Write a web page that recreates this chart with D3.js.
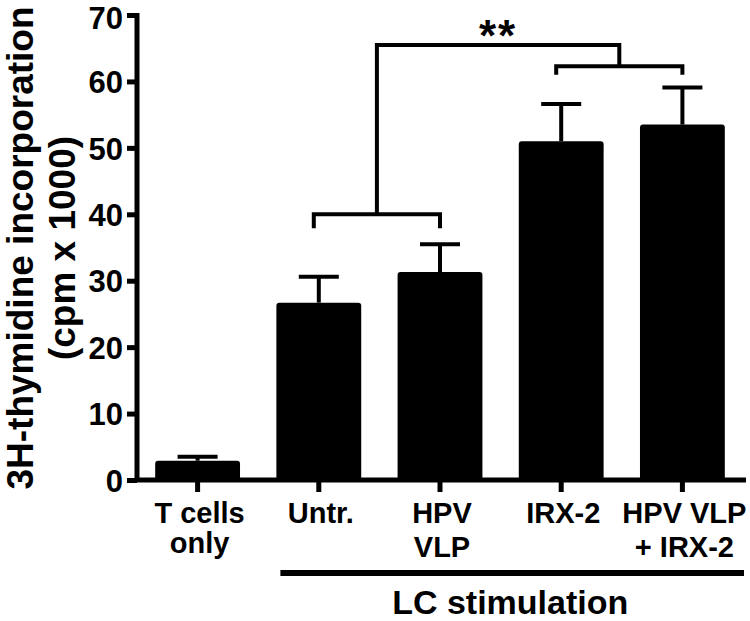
<!DOCTYPE html>
<html>
<head>
<meta charset="utf-8">
<script src="https://cdn.jsdelivr.net/npm/d3@7"></script>
<style>
  body { margin: 0; background: #fff; }
  text { font-family: "Liberation Sans", Arial, sans-serif; font-weight: bold; fill: #000; }
</style>
</head>
<body>
<script>
// groups on the x axis and their label lines
var categories = ['T cells only', 'Untr.', 'HPV VLP', 'IRX-2', 'HPV VLP + IRX-2']
var labelLines = [['T cells', 'only'], ['Untr.'], ['HPV', 'VLP'], ['IRX-2'], ['HPV VLP', '+ IRX-2']]
// mean and upper error (cpm x 1000)
var means = [2.9, 26.7, 31.3, 51.0, 53.5]
var errors = [0.6, 3.9, 4.2, 5.6, 5.6]
var yTicks = [0, 10, 20, 30, 40, 50, 60, 70]

// significance brackets, heights in data units
var innerBrackets = [
  {from: 'Untr.', to: 'HPV VLP', y: 40.0, leg: 37.9},
  {from: 'IRX-2', to: 'HPV VLP + IRX-2', y: 62.3, leg: 61.0}
]
var outerBracket = {y: 65.5, label: '**'}
var groupLabel = 'LC stimulation'

var width = 750, height = 621

var svg = d3.select('body').append('svg')
    .attr('width', width)
    .attr('height', height)

var x = d3.scaleBand()
    .domain(categories)
    .range([137, 743])
    .paddingInner(0.3)
    .paddingOuter(0.15)

var y = d3.scaleLinear()
    .domain([0, 70])
    .range([480, 15])

var cx = function(c) { return x(c) + x.bandwidth() / 2 }

var data = categories.map(function(c, i) {
  return {cat: c, mean: means[i], err: errors[i], lines: labelLines[i]}
})

// bars
svg.append('g').selectAll('rect')
  .data(data)
  .enter().append('rect')
    .attr('x', function(d) { return x(d.cat) })
    .attr('y', function(d) { return y(d.mean) })
    .attr('width', x.bandwidth())
    .attr('height', function(d) { return y(0) - y(d.mean) })
    .attr('rx', 3)
    .attr('fill', '#000')

// error bars (upper only)
var eb = svg.append('g')
    .attr('stroke', '#000')
    .attr('stroke-width', 4)
eb.selectAll('line.v')
  .data(data)
  .enter().append('line')
    .attr('class', 'v')
    .attr('x1', function(d) { return cx(d.cat) })
    .attr('x2', function(d) { return cx(d.cat) })
    .attr('y1', function(d) { return y(d.mean) })
    .attr('y2', function(d) { return y(d.mean + d.err) })
eb.selectAll('line.cap')
  .data(data)
  .enter().append('line')
    .attr('class', 'cap')
    .attr('x1', function(d) { return cx(d.cat) - 20 })
    .attr('x2', function(d) { return cx(d.cat) + 20 })
    .attr('y1', function(d) { return y(d.mean + d.err) })
    .attr('y2', function(d) { return y(d.mean + d.err) })

// y axis
var yAxis = svg.append('g')
    .attr('transform', 'translate(137,0)')
    .call(d3.axisLeft(y).tickValues(yTicks).tickSize(10).tickSizeOuter(0).tickPadding(4))
yAxis.selectAll('path, line')
    .attr('stroke', '#000')
    .attr('stroke-width', 5)
yAxis.select('.domain').attr('d', 'M0,' + (y(70) - 2) + 'V' + (y(0) + 2))
yAxis.selectAll('text')
    .attr('font-size', 31)
    .attr('dy', function(d) { return d === 70 ? '0.45em' : '0.36em' })
    .attr('font-family', '"Liberation Sans", Arial, sans-serif')
    .attr('font-weight', 'bold')

// x axis
var xAxis = svg.append('g')
    .attr('transform', 'translate(0,' + y(0) + ')')
    .call(d3.axisBottom(x).tickSize(12).tickSizeOuter(0).tickFormat(''))
xAxis.selectAll('line')
    .attr('stroke', '#000')
    .attr('stroke-width', 5)
xAxis.select('.domain')
    .attr('d', 'M135,0H746')
    .attr('stroke', '#000')
    .attr('stroke-width', 5)

var xl = svg.append('g').selectAll('text')
  .data(data)
  .enter().append('text')
    .attr('x', function(d) { return cx(d.cat) + 2 })
    .attr('y', 523)
    .attr('text-anchor', 'middle')
    .attr('font-size', 29)
xl.selectAll('tspan')
  .data(function(d, i) { return d.lines.map(function(l) { return {t: l, gap: i === 0 ? 30 : 34} }) })
  .enter().append('tspan')
    .attr('x', function() { return this.parentNode.getAttribute('x') })
    .attr('dy', function(d, j) { return j === 0 ? 0 : d.gap })
    .text(function(d) { return d.t })

// y title
var yt = svg.append('text')
    .attr('transform', 'translate(0,248) rotate(-90)')
    .attr('text-anchor', 'middle')
    .attr('font-size', 37)
yt.append('tspan').attr('x', 0).attr('y', 33).text('3H-thymidine incorporation')
yt.append('tspan').attr('x', 0).attr('y', 75).text('(cpm x 1000)')

// group line under the LC stimulation categories
svg.append('line')
    .attr('x1', x('Untr.') + 4)
    .attr('x2', 744)
    .attr('y1', 573)
    .attr('y2', 573)
    .attr('stroke', '#000')
    .attr('stroke-width', 6)
svg.append('text')
    .attr('x', (x('Untr.') + 744) / 2)
    .attr('y', 614)
    .attr('text-anchor', 'middle')
    .attr('font-size', 34)
    .text(groupLabel)

// significance brackets
var br = svg.append('g')
    .attr('fill', 'none')
    .attr('stroke', '#000')
    .attr('stroke-width', 4)
var mids = innerBrackets.map(function(b) { return (cx(b.from) - 5 + cx(b.to)) / 2 })
br.selectAll('path.inner')
  .data(innerBrackets)
  .enter().append('path')
    .attr('class', 'inner')
    .attr('d', function(b) {
      var x1 = cx(b.from) - 5, x2 = cx(b.to)
      return 'M' + x1 + ',' + y(b.leg) + 'V' + y(b.y) + 'H' + x2 + 'V' + y(b.leg)
    })
br.append('path')
    .attr('d', 'M' + mids[0] + ',' + y(innerBrackets[0].y) + 'V' + y(outerBracket.y) +
      'H' + mids[1] + 'V' + y(innerBrackets[1].y))
svg.append('text')
    .attr('x', (mids[0] + mids[1]) / 2)
    .attr('y', 51)
    .attr('text-anchor', 'middle')
    .attr('font-size', 44)
    .attr('letter-spacing', 2)
    .text(outerBracket.label)
</script>
</body>
</html>
